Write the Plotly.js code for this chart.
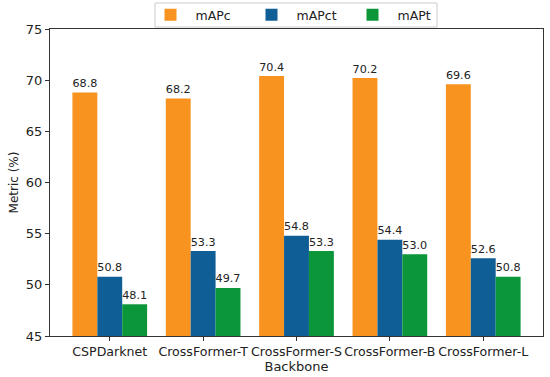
<!DOCTYPE html>
<html><head><meta charset="utf-8">
<script src="https://cdn.plot.ly/plotly-3.0.1.min.js"></script>
<style>body{margin:0;background:#fff}#chart{width:550px;height:377px}</style>
</head><body><div id="chart"></div>
<script>
const categories = ["CSPDarknet","CrossFormer-T","CrossFormer-S","CrossFormer-B","CrossFormer-L"];
const mAPc  = [68.8, 68.2, 70.4, 70.2, 69.6];
const mAPct = [50.8, 53.3, 54.8, 54.4, 52.6];
const mAPt  = [48.1, 49.7, 53.3, 53.0, 50.8];
const seriesNames = ["mAPc","mAPct","mAPt"];
const colors = ["#F7931E","#0F5E96","#0A9639"];
const yTicks = [45,50,55,60,65,70,75];

const f = (s)=>({family:"DejaVu Sans", size:s, color:"#222"});
const data = [mAPc, mAPct, mAPt].map((vals,i)=>({
  type:"bar", x:categories, y:vals.map(v=>v-45), base:45, name:seriesNames[i],
  marker:{color:colors[i], line:{width:0}},
  text:vals.map(v=>v.toFixed(1)), textposition:"outside", cliponaxis:false,
  textfont:f(13.5),
  hoverinfo:"none"
}));
const layout = {
  width:550, height:377,
  margin:{l:50, r:7, t:29, b:41, autoexpand:false},
  barmode:"group", bargap:0.2, bargroupgap:0,
  font:f(13),
  paper_bgcolor:"#fff", plot_bgcolor:"#fff",
  xaxis:{type:"category", range:[-0.64,4.64], showline:true, mirror:true, linecolor:"#333", linewidth:1,
    ticks:"outside", ticklen:4, tickcolor:"#333", showgrid:false, tickangle:0,
    tickfont:f(12.6),
    title:{text:"Backbone", font:f(13), standoff:0}},
  yaxis:{range:[45,75], tickvals:yTicks, showline:true, mirror:true, linecolor:"#333", linewidth:1,
    ticks:"outside", ticklen:4, tickcolor:"#333", showgrid:false, zeroline:false,
    tickfont:f(13),
    title:{text:"Metric (%)", font:f(12), standoff:4}},
  shapes:[{type:"rect", xref:"paper", yref:"paper", x0:0.213, x1:0.785, y0:1.0065, y1:1.0847,
    line:{color:"#cccccc", width:1}, fillcolor:"#fff", layer:"above"}],
  showlegend:true,
  legend:{orientation:"h", x:0.54, xanchor:"center", xref:"container", y:1.0, yanchor:"top", yref:"container",
    borderwidth:0, bgcolor:"rgba(0,0,0,0)",
    font:f(12.5), itemwidth:40, entrywidth:46, entrywidthmode:"pixels", traceorder:"normal"}
};
Plotly.newPlot("chart", data, layout, {staticPlot:true});
</script></body></html>
